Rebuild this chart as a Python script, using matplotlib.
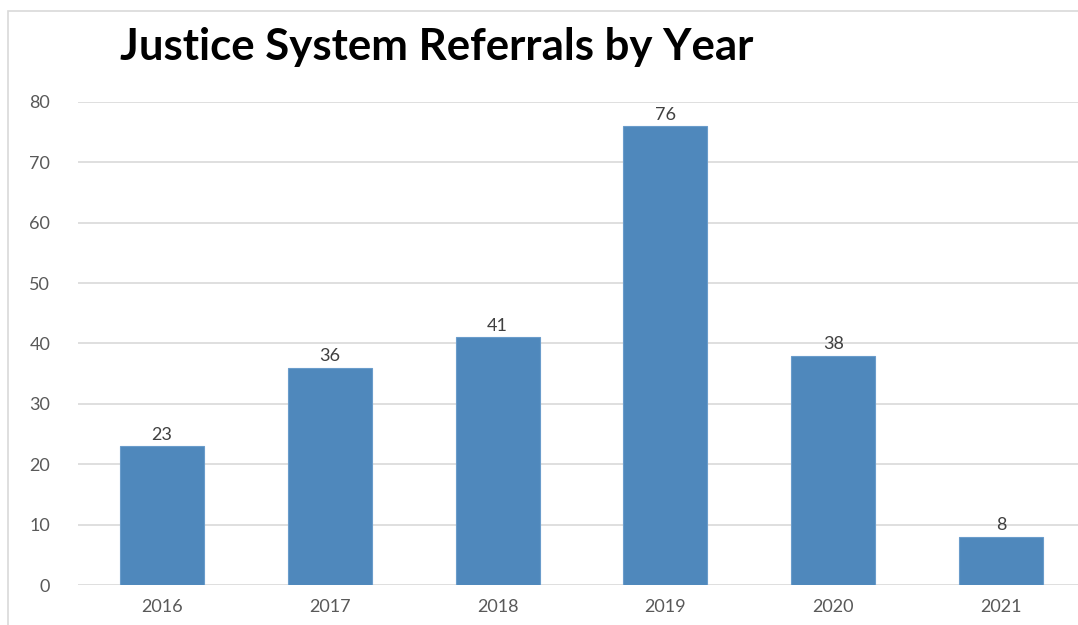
import matplotlib
matplotlib.use('Agg')
import matplotlib.pyplot as plt
from matplotlib.patches import Rectangle

years = ['2016', '2017', '2018', '2019', '2020', '2021']
referrals = [23, 36, 41, 76, 38, 8]

plt.rcParams['font.family'] = ['Lato', 'DejaVu Sans']

fig = plt.figure(figsize=(10.78, 6.25), dpi=100)
# light frame around the chart area (cut off at right/bottom like the screenshot)
fig.patches.append(Rectangle((8/1078, -0.1), 1.2, 1 - 11/625 + 0.1, transform=fig.transFigure,
                             fill=False, edgecolor='#d9d9d9', linewidth=1.2))

ax = fig.add_axes([78/1078, 1 - 585/625, 1 - 78/1078, (585 - 102)/625])
x = range(len(years))
ax.bar(x, referrals, width=0.5, color='#4f88bc', edgecolor='#6a9ccb', linewidth=0.8, zorder=3)
for i, v in zip(x, referrals):
    ax.text(i, v + 0.6, str(v), ha='center', va='bottom', fontsize=13, color='#404040')

ax.set_xlim(-0.5, 5.458)
ax.set_ylim(0, 80)
ax.set_yticks(range(0, 81, 10))
ax.set_xticks(list(x))
ax.set_xticklabels(years)
ax.grid(axis='y', color='#d9d9d9', linewidth=1.2, zorder=0)
for s in ax.spines.values():
    s.set_visible(False)
ax.tick_params(length=0, labelsize=13, labelcolor='#595959')
ax.tick_params(axis='y', pad=20)
ax.tick_params(axis='x', pad=10)

fig.text(120/1078, 1 - 60/625, 'Justice System Referrals by Year', fontsize=31.5, fontweight='bold',
         color='black', ha='left', va='baseline')

fig.savefig('out.png', dpi=100)
